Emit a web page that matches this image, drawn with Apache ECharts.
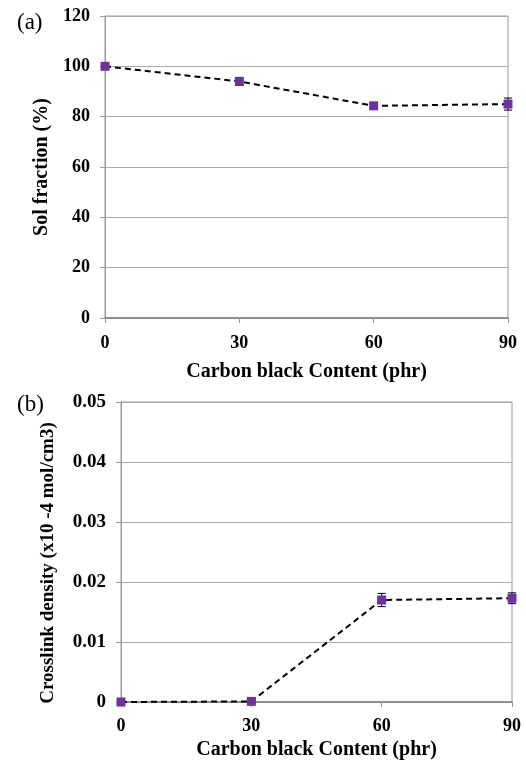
<!DOCTYPE html>
<html>
<head>
<meta charset="utf-8">
<script src="https://cdn.jsdelivr.net/npm/echarts@6/dist/echarts.min.js"></script>
<style>
  html, body { margin: 0; padding: 0; background: #fff; }
  #chart { width: 526px; height: 762px; }
</style>
</head>
<body>
<div id="chart"></div>
<script>
// carbon black content (phr)
const carbonBlack = [0, 30, 60, 90];
// (a) sol fraction (%)
const solFraction = [100, 94, 84.3, 85];
const solError = [0.5, 1.6, 0.8, 2.4];
// (b) crosslink density (x10 -4 mol/cm3)
const crosslink = [0, 0.0001, 0.0170, 0.0173];
const crosslinkError = [0, 0.0001, 0.0011, 0.0009];

const chart = echarts.init(document.getElementById('chart'));

const font = 'Liberation Serif';
const markerColor = '#7030A0';

// error bars drawn through the axis scale
function errorBars(gridIdx, values, errors) {
    return {
        type: 'custom',
        xAxisIndex: gridIdx,
        yAxisIndex: gridIdx,
        z: 3,
        data: carbonBlack.map((x, i) => [x, values[i] - errors[i], values[i] + errors[i]]),
        renderItem: function (params, api) {
            const lo = api.coord([api.value(0), api.value(1)]);
            const hi = api.coord([api.value(0), api.value(2)]);
            const w = 4;
            const style = { stroke: '#000', lineWidth: 1 };
            return {
                type: 'group',
                children: [
                    { type: 'line', shape: { x1: lo[0], y1: lo[1], x2: hi[0], y2: hi[1] }, style: style },
                    { type: 'line', shape: { x1: lo[0] - w, y1: lo[1], x2: lo[0] + w, y2: lo[1] }, style: style },
                    { type: 'line', shape: { x1: hi[0] - w, y1: hi[1], x2: hi[0] + w, y2: hi[1] }, style: style }
                ]
            };
        }
    };
}

function xAxis(gridIdx, nameGap, labelMargin) {
    return {
        gridIndex: gridIdx,
        type: 'value',
        min: 0,
        max: 90,
        interval: 30,
        name: 'Carbon black Content (phr)',
        nameLocation: 'middle',
        nameGap: nameGap,
        nameTextStyle: { fontFamily: font, fontWeight: 'bold', fontSize: 20, color: '#000' },
        axisLine: { show: true, lineStyle: { color: '#808080', width: 1.5 } },
        axisTick: { show: true, length: 5, lineStyle: { color: '#999' } },
        axisLabel: { fontFamily: font, fontWeight: 'bold', fontSize: 18, color: '#000', margin: labelMargin },
        splitLine: { show: false }
    };
}

function yAxis(gridIdx, max, interval, name, gap, digits, labelSize, nameSize, namePad) {
    return {
        gridIndex: gridIdx,
        type: 'value',
        min: 0,
        max: max,
        interval: interval,
        name: name,
        nameLocation: 'middle',
        nameGap: gap,
        nameTextStyle: { fontFamily: font, fontWeight: 'bold', fontSize: nameSize, color: '#000', padding: namePad },
        axisLine: { show: true, lineStyle: { color: '#999' } },
        axisTick: { show: true, length: 5, lineStyle: { color: '#999' } },
        axisLabel: {
            fontFamily: font, fontWeight: 'bold', fontSize: labelSize, color: '#000', margin: 15,
            formatter: v => (v === 0 ? '0' : v.toFixed(digits))
        },
        splitLine: { show: true, lineStyle: { color: '#AAAAAA', width: 1 } }
    };
}

function lineSeries(gridIdx, values) {
    return {
        type: 'line',
        xAxisIndex: gridIdx,
        yAxisIndex: gridIdx,
        z: 4,
        data: carbonBlack.map((x, i) => [x, values[i]]),
        symbol: 'rect',
        symbolSize: 9,
        itemStyle: { color: markerColor },
        lineStyle: { color: '#000', width: 2, type: [6, 4] },
        emphasis: { disabled: true }
    };
}

const option = {
    animation: false,
    backgroundColor: '#fff',
    title: [
        { text: '(a)', left: 12, top: 6, textStyle: { fontFamily: font, fontWeight: 'normal', fontSize: 23, color: '#000' } },
        { text: '(b)', left: 12, top: 388, textStyle: { fontFamily: font, fontWeight: 'normal', fontSize: 23, color: '#000' } }
    ],
    grid: [
        { left: 105, top: 16, width: 403, height: 302, show: true, borderColor: '#999', borderWidth: 1, outerBoundsMode: 'none' },
        { left: 121, top: 402, width: 391, height: 300, show: true, borderColor: '#999', borderWidth: 1, outerBoundsMode: 'none' }
    ],
    xAxis: [xAxis(0, 44, 16), xAxis(1, 38, 15)],
    yAxis: [
        yAxis(0, 120, 20, 'Sol fraction (%)', 50, 0, 18, 20, 0),
        yAxis(1, 0.05, 0.01, 'Crosslink density (x10 -4 mol/cm3)', 63, 2, 19, 19, [0, 22, 0, 0])
    ],
    series: [
        errorBars(0, solFraction, solError),
        lineSeries(0, solFraction),
        errorBars(1, crosslink, crosslinkError),
        lineSeries(1, crosslink)
    ]
};

chart.setOption(option);
</script>
</body>
</html>
